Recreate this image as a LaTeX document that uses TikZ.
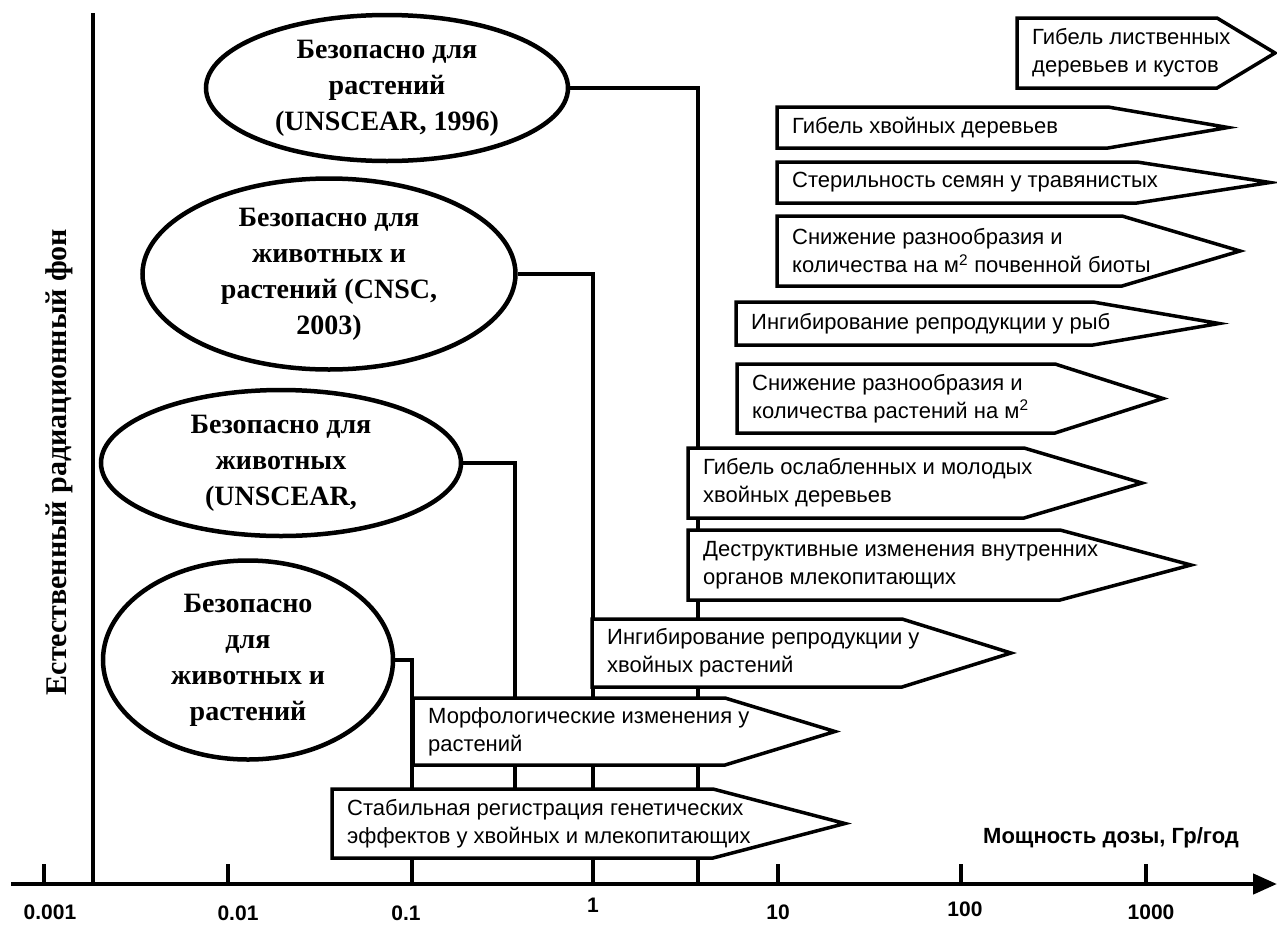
\documentclass[tikz,border=0pt]{standalone}
\usepackage{fontspec}
\setmainfont{Liberation Serif}
\newfontfamily\boxfont{Liberation Sans}
\usetikzlibrary{shapes.geometric, arrows.meta, positioning}

% arrow-shaped box: name, left, top, bottom, shoulder, tip, text
\newcommand{\effectbox}[7]{%
  \draw[boxline] (#2,#3) -- (#5,#3) -- (#6,{(#3+#4)/2}) -- (#5,#4) -- (#2,#4) -- cycle;
  \node[effect] (#1) at (#2+15,{(#3+#4)/2}) {#7};
}

\begin{document}
\begin{tikzpicture}[x=1pt, y=-1pt,
    oval/.style={ellipse, draw, line width=4.5pt, fill=white, inner sep=0pt, align=center,
      font=\bfseries\fontsize{28}{36}\selectfont},
    link/.style={line width=4.5pt},
    boxline/.style={draw, line width=3.5pt, fill=white},
    effect/.style={anchor=west, inner sep=0pt, align=left, font=\boxfont\fontsize{22}{28}\selectfont},
    ticklabel/.style={font=\boxfont\bfseries\fontsize{21}{24}\selectfont}]
  \useasboundingbox (0,0) rectangle (1277,924);

  % safe levels
  \node[oval, minimum width=362pt, minimum height=146pt] (e1) at (387,88)
    {Безопасно для\\растений\\(UNSCEAR, 1996)};
  \node[oval, minimum width=373pt, minimum height=191pt] (e2) at (329,274)
    {Безопасно для\\животных и\\растений (CNSC,\\2003)};
  \node[oval, minimum width=360pt, minimum height=146pt] (e3) at (281,463)
    {Безопасно для\\животных\\(UNSCEAR,};
  \node[oval, minimum width=290pt, minimum height=199pt] (e4) at (248,660)
    {Безопасно\\для\\животных и\\растений};

  % axis and background level
  \coordinate (ax0) at (11,884);
  \coordinate (ax1) at (1277,884);
  \coordinate (bgtop) at (93,13);
  \coordinate (bgbot) at (93,884);
  \coordinate (d01) at (412,884);
  \coordinate (d1) at (593,884);
  \coordinate (d3) at (698,884);
  \coordinate (stabtop) at (515,789);

  \draw[link] (bgtop) -- (bgbot);
  \draw[link] (e1.east) -| (d3);
  \draw[link] (e2.east) -| (d1);
  \draw[link] (e3.east) -| (stabtop);
  \draw[link] (e4.east) -| (d01);
  \draw[link, -{Triangle[length=24pt, width=20pt]}] (ax0) -- (ax1);
  \foreach \x in {44, 228, 778, 961, 1146}
    \draw[link] (\x,884) -- (\x,864);

  \node[rotate=90, font=\bfseries\fontsize{30}{32}\selectfont] (bg) at (59,462)
    {Естественный радиационный фон};

  % effects
  \effectbox{lis}{1017}{18}{88}{1217}{1275}{Гибель лиственных\\деревьев и кустов}
  \effectbox{hvo}{777}{107}{148}{1108}{1228}{Гибель хвойных деревьев}
  \effectbox{ster}{777}{162}{203}{1137}{1270}{Стерильность семян у травянистых}
  \effectbox{pochv}{777}{216}{286}{1122}{1240}{Снижение разнообразия и\\количества на м\textsuperscript{2} почвенной биоты}
  \effectbox{ryb}{736}{302}{345}{1093}{1219}{Ингибирование репродукции у рыб}
  \effectbox{rast}{737}{364}{433}{1055}{1163}{Снижение разнообразия и\\количества растений на м\textsuperscript{2}}
  \effectbox{oslab}{688}{448}{518}{1024}{1142}{Гибель ослабленных и молодых\\хвойных деревьев}
  \effectbox{destr}{688}{530}{600}{1060}{1191}{Деструктивные изменения внутренних\\органов млекопитающих}
  \effectbox{ingib}{592}{619}{687}{902}{1011}{Ингибирование репродукции у\\хвойных растений}
  \effectbox{morf}{413}{698}{765}{725}{835}{Морфологические изменения у\\растений}
  \effectbox{stab}{332}{789}{858}{713}{845}{Стабильная регистрация генетических\\эффектов у хвойных и млекопитающих}

  % scale
  \foreach \x/\y/\t [count=\i] in {50/912/0.001, 238/913/0.01, 406/913/0.1, 593/905/1,
      778/912/10, 965/909/100, 1151/912/1000}
    \node[ticklabel] (lab\i) at (\x,\y) {\t};
  \node[ticklabel, font=\boxfont\bfseries\fontsize{22}{24}\selectfont] (unit) at (1111,838)
    {Мощность дозы, Гр/год};
\end{tikzpicture}
\end{document}
